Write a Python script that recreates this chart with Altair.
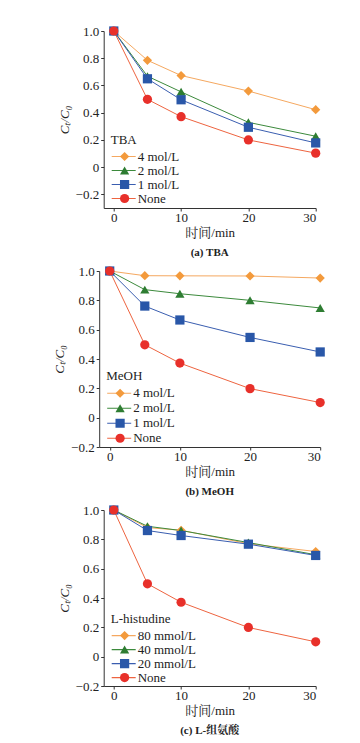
import altair as alt
import pandas as pd

time_min = [0, 5, 10, 20, 30]

tba_labels = ["4 mol/L", "2 mol/L", "1 mol/L", "None"]
tba_4 = [1.0, 0.785, 0.673, 0.559, 0.422]
tba_2 = [1.0, 0.668, 0.553, 0.329, 0.227]
tba_1 = [1.0, 0.649, 0.495, 0.293, 0.178]
tba_none = [1.0, 0.498, 0.371, 0.200, 0.103]

meoh_labels = ["4 mol/L", "2 mol/L", "1 mol/L", "None"]
meoh_4 = [1.0, 0.968, 0.967, 0.966, 0.952]
meoh_2 = [1.0, 0.873, 0.845, 0.800, 0.748]
meoh_1 = [1.0, 0.761, 0.666, 0.547, 0.448]
meoh_none = [1.0, 0.497, 0.372, 0.198, 0.103]

his_labels = ["80 mmol/L", "40 mmol/L", "20 mmol/L", "None"]
his_80 = [1.0, 0.880, 0.862, 0.770, 0.717]
his_40 = [1.0, 0.889, 0.860, 0.778, 0.695]
his_20 = [1.0, 0.860, 0.826, 0.767, 0.690]
his_none = [1.0, 0.497, 0.371, 0.199, 0.101]

y_ticks = [-0.2, 0, 0.2, 0.4, 0.6, 0.8, 1.0]
x_ticks = [0, 10, 20, 30]

marker_colors = ["#F39A3C", "#2E7D32", "#2957A8", "#E8302A"]
line_colors = ["#F5A860", "#3C8A3C", "#3A5EB0", "#EE6440"]
shapes = ["diamond", "triangle-up", "square", "circle"]

FONT = "'Liberation Serif', 'Noto Serif CJK SC', 'Noto Sans CJK SC', serif"


def panel(labels, series, legend_title, caption, width, height, ydomain, legend_y, row_h):
    pt_labels = [lab + " " for lab in labels]
    rows = []
    for lab, plab, vals in zip(labels, pt_labels, series):
        for t, v in zip(time_min, vals):
            rows.append({"t": t, "v": v, "s": plab, "line": lab})
    df = pd.DataFrame(rows)
    base = alt.Chart(df)
    x = alt.X("t:Q", scale=alt.Scale(domain=[-1.5, 30], nice=False),
              axis=alt.Axis(values=x_ticks, title="时间/min", grid=False,
                            tickSize=3, labelPadding=0, titlePadding=2))
    y = alt.Y("v:Q", scale=alt.Scale(domain=ydomain, nice=False, zero=False),
              axis=alt.Axis(values=y_ticks, title="Cₜ/C₀", grid=False, tickSize=3,
                            labelPadding=2,
                            labelExpr="datum.value == 0 ? '0' : format(datum.value, '.1f')",
                            titleFontStyle="italic", titlePadding=4))
    lines = base.mark_line(strokeWidth=1).encode(
        x=x, y=y,
        stroke=alt.Stroke("line:N", sort=labels,
                          scale=alt.Scale(domain=labels, range=line_colors),
                          legend=alt.Legend(orient="none", legendX=7, legendY=legend_y,
                                            title=legend_title, symbolType="stroke",
                                            symbolSize=576, symbolStrokeWidth=1.2,
                                            clipHeight=row_h, labelOffset=1)),
        detail="line:N",
    )
    pts = base.mark_point(filled=True, size=85, opacity=1).encode(
        x=x, y=y,
        fill=alt.Fill("s:N", sort=pt_labels,
                      scale=alt.Scale(domain=pt_labels, range=marker_colors),
                      legend=alt.Legend(orient="none", legendX=14.4, legendY=legend_y + 16,
                                        title=None, labelExpr="''", symbolSize=85,
                                        clipHeight=row_h, labelOffset=0,
                                        symbolStrokeWidth=0)),
        shape=alt.Shape("s:N", sort=pt_labels,
                        scale=alt.Scale(domain=pt_labels, range=shapes)),
    )
    return alt.layer(lines, pts).properties(
        width=width, height=height,
        title=alt.TitleParams(caption, orient="bottom", anchor="middle", fontSize=11,
                              fontWeight="bold", font=FONT, offset=8, color="#222"),
    )


a = panel(tba_labels, [tba_4, tba_2, tba_1, tba_none], "TBA", "(a) TBA",
          212, 177, [-0.3, 1.0], 103, 13)
b = panel(meoh_labels, [meoh_4, meoh_2, meoh_1, meoh_none], "MeOH", "(b) MeOH",
          221, 176, [-0.2, 1.0], 99, 14.5)
c = panel(his_labels, [his_80, his_40, his_20, his_none], "L-histudine", "(c) L-组氨酸",
          212, 176, [-0.2, 1.0], 103, 13.2)

chart = alt.vconcat(a, b, c, spacing=7, center=True).resolve_scale(
    stroke="independent", fill="independent", shape="independent"
).configure_view(stroke=None).configure_axis(
    labelFont=FONT, titleFont=FONT, labelFontSize=13, titleFontSize=13,
    labelColor="#222", titleColor="#222", domainColor="#333", tickColor="#333",
    titleFontWeight="normal",
).configure_legend(
    labelFont=FONT, titleFont=FONT, labelFontSize=13, titleFontSize=13,
    titleFontWeight="normal", labelColor="#222", titleColor="#222", rowPadding=0,
    titlePadding=3,
).properties(padding={"left": 45, "top": 17, "right": 5, "bottom": 5})

chart.save("out.html", embed_options={"renderer": "svg", "actions": False})
